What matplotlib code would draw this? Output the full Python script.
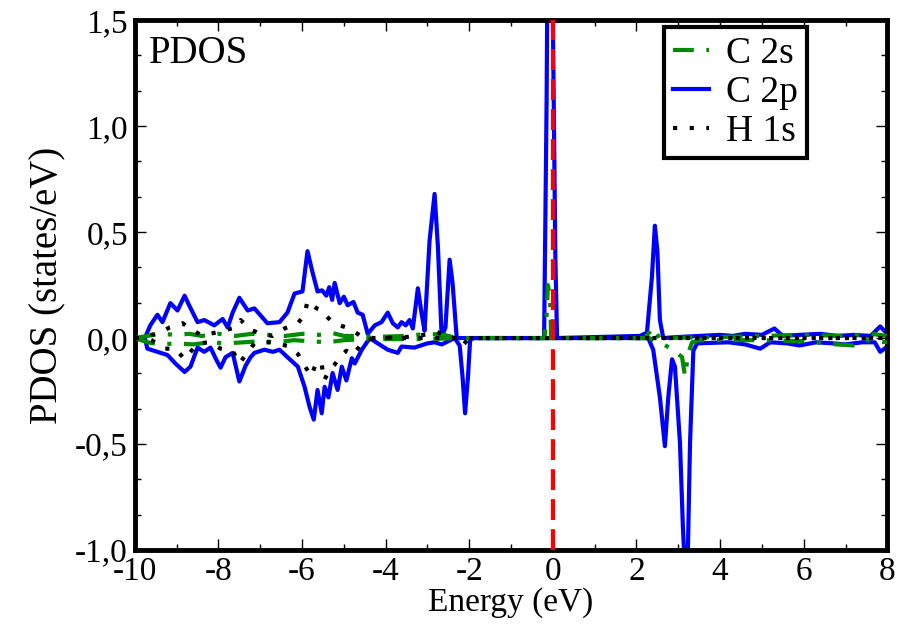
import matplotlib
matplotlib.use("Agg")
import matplotlib.pyplot as plt
from matplotlib.ticker import MultipleLocator, FuncFormatter

plt.rcParams['font.family'] = ['Liberation Serif', 'DejaVu Serif']
plt.rcParams['axes.unicode_minus'] = False

# C 2p, spin up / spin down
c2p_up_e = [-10.0, -9.76, -9.63, -9.46, -9.34, -9.15, -8.98, -8.81, -8.69, -8.5, -8.34, -8.1, -7.9, -7.78,
            -7.66, -7.5, -7.3, -7.14, -6.83, -6.54, -6.35, -6.18, -5.99, -5.87, -5.75, -5.63, -5.52, -5.42,
            -5.35, -5.28, -5.22, -5.1, -5.0, -4.91, -4.77, -4.67, -4.55, -4.43, -4.26, -4.1, -3.95, -3.83,
            -3.71, -3.62, -3.52, -3.43, -3.35, -3.23, -3.14, -3.07, -2.95, -2.83, -2.75, -2.66, -2.57, -2.47,
            -2.4, -2.3, -2.0, -0.21, -0.19, -0.15, -0.13, -0.01, 0.02, 0.06, 0.1, 2.08, 2.25, 2.37, 2.44,
            2.5, 2.56, 2.64, 3.0, 3.5, 4.0, 4.3, 4.6, 5.0, 5.3, 5.5, 5.9, 6.4, 6.8, 7.2, 7.6, 7.83, 8.0]
c2p_up = [0.0, 0.0, 0.06, 0.11, 0.075, 0.165, 0.13, 0.2, 0.15, 0.075, 0.085, 0.06, 0.09, 0.05,
          0.12, 0.19, 0.13, 0.14, 0.07, 0.075, 0.12, 0.21, 0.22, 0.41, 0.31, 0.22, 0.225, 0.2,
          0.24, 0.18, 0.26, 0.165, 0.195, 0.155, 0.17, 0.12, 0.11, 0.02, 0.06, 0.075, 0.12, 0.07,
          0.05, 0.075, 0.06, 0.085, 0.045, 0.235, 0.115, 0.035, 0.46, 0.68, 0.43, 0.005, 0.05, 0.37,
          0.26, 0.0, 0.0, 0.0, 0.37, 1.12, 1.7, 1.7, 1.12, 0.37, 0.0, 0.01, 0.025, 0.29, 0.53,
          0.41, 0.085, 0.0, 0.005, 0.01, 0.015, 0.01, 0.02, 0.015, 0.045, 0.01, 0.015, 0.02, 0.01, 0.015, 0.01, 0.055, 0.02]

c2p_dn_e = [-10.0, -9.76, -9.7, -9.46, -9.22, -9.03, -8.81, -8.67, -8.5, -8.34, -8.19, -8.07, -7.95, -7.83,
            -7.66, -7.5, -7.35, -7.23, -7.14, -6.9, -6.7, -6.54, -6.35, -6.1, -5.94, -5.82, -5.72, -5.63,
            -5.53, -5.46, -5.37, -5.27, -5.15, -5.05, -4.94, -4.81, -4.74, -4.57, -4.38, -4.19, -4.07,
            -3.95, -3.71, -3.62, -3.31, -3.0, -2.83, -2.66, -2.35, -2.23, -2.16, -2.1, -2.03, -1.98, -1.9,
            2.28, 2.4, 2.56, 2.68, 2.76, 2.85, 2.92, 3.04, 3.11, 3.16, 3.22, 3.28, 3.36, 3.45, 4.2, 4.6,
            4.96, 5.2, 5.6, 5.9, 6.3, 6.7, 7.0, 7.4, 7.7, 7.83, 8.0]
c2p_dn = [0.0, 0.0, -0.05, -0.065, -0.08, -0.12, -0.16, -0.135, -0.045, -0.065, -0.045, -0.095, -0.14, -0.09,
          -0.07, -0.205, -0.13, -0.09, -0.07, -0.055, -0.065, -0.055, -0.09, -0.135, -0.23, -0.325, -0.385, -0.245,
          -0.355, -0.23, -0.28, -0.165, -0.245, -0.135, -0.2, -0.095, -0.12, -0.055, 0.0, -0.025, -0.04,
          -0.055, -0.07, -0.04, -0.045, -0.025, -0.02, -0.03, 0.0, -0.035, -0.185, -0.355, -0.18, -0.01, 0.0,
          0.0, -0.055, -0.28, -0.51, -0.28, -0.1, -0.135, -0.495, -0.89, -1.1, -1.1, -0.5, -0.06, -0.025, -0.02, -0.03,
          -0.05, -0.02, -0.025, -0.035, -0.02, -0.025, -0.03, -0.02, -0.02, -0.065, -0.04]

# C 2s, spin up / spin down
c2s_up_e = [-10.0, -9.7, -9.4, -9.0, -8.7, -8.4, -8.0, -7.6, -7.2, -6.8, -6.4, -6.0, -5.6, -5.3, -5.0,
            -4.6, -4.3, -3.5, -3.0, -2.6, -2.3, -0.2, -0.15, -0.12, -0.07, -0.04, 2.2, 2.4, 2.55,
            4.0, 5.0, 6.0, 7.0, 7.6, 8.0]
c2s_up = [0.0, 0.01, 0.02, 0.015, 0.02, 0.01, 0.02, 0.01, 0.02, 0.015, 0.01, 0.02, 0.015, 0.025, 0.01,
          0.01, 0.005, 0.01, 0.02, 0.015, 0.0, 0.0, 0.11, 0.25, 0.2, 0.0, 0.0, 0.05, 0.0,
          0.005, 0.01, 0.015, 0.01, 0.02, 0.01]
c2s_dn_e = [-10.0, -9.7, -9.4, -9.0, -8.6, -8.2, -7.8, -7.4, -7.0, -6.6, -6.2, -5.8, -5.4, -5.0, -4.5,
            -3.0, -2.3, 2.3, 2.56, 2.87, 3.09, 3.16, 3.24, 3.33, 3.5, 5.0, 6.0, 6.8, 7.2, 7.5, 8.0]
c2s_dn = [0.0, -0.02, -0.03, -0.025, -0.03, -0.02, -0.025, -0.02, -0.015, -0.02, -0.01, -0.015, -0.02, -0.01, -0.005,
          -0.005, 0.0, 0.0, -0.02, -0.055, -0.09, -0.18, -0.07, -0.02, -0.01, -0.01, -0.015, -0.03, -0.035, -0.01, -0.02]

# H 1s, spin up / spin down
h1s_up_e = [-10.0, -9.76, -9.6, -9.39, -9.17, -8.86, -8.67, -8.43, -8.2, -7.98, -7.59, -7.47, -7.23, -7.0,
            -6.7, -6.42, -6.1, -5.94, -5.87, -5.78, -5.65, -5.5, -5.45, -5.3, -5.1, -4.86, -4.6, -4.3,
            -3.5, -2.9, -2.78, -2.5, 8.0]
h1s_up = [0.0, 0.0, 0.015, 0.025, 0.05, 0.07, 0.045, 0.015, 0.02, 0.03, 0.05, 0.085, 0.04, 0.02,
          0.01, 0.045, 0.07, 0.11, 0.175, 0.16, 0.14, 0.13, 0.11, 0.08, 0.06, 0.045, 0.01, 0.0,
          0.005, 0.02, 0.03, 0.0, 0.0]
h1s_dn_e = [-10.0, -9.76, -9.6, -9.3, -9.03, -8.81, -8.5, -8.2, -7.95, -7.66, -7.5, -7.14, -6.8, -6.5,
            -6.3, -6.1, -5.94, -5.78, -5.65, -5.53, -5.47, -5.35, -5.22, -5.05, -4.94, -4.79, -4.5, -4.2,
            -2.3, -2.16, -2.0, 8.0]
h1s_dn = [0.0, 0.0, -0.01, -0.05, -0.05, -0.1, -0.025, -0.02, -0.05, -0.06, -0.12, -0.025, -0.02, -0.03,
          -0.04, -0.075, -0.13, -0.18, -0.11, -0.125, -0.2, -0.15, -0.125, -0.08, -0.06, -0.08, -0.01, 0.0,
          0.0, -0.035, 0.0, 0.0]

fig = plt.figure(figsize=(8.99, 6.3), dpi=100)
ax = fig.add_axes([0.150, 0.127, 0.837, 0.841])

lw = 3.0
ax.plot(c2p_up_e, c2p_up, color="#0000ff", lw=lw, label="C 2p", zorder=2)
ax.plot(c2p_dn_e, c2p_dn, color="#0000ff", lw=lw, zorder=2)
ax.plot(c2s_up_e, c2s_up, color="#008c00", lw=lw, ls=(0, (5, 3, 1, 3)), label="C 2s", zorder=3)
ax.plot(c2s_dn_e, c2s_dn, color="#008c00", lw=lw, ls=(0, (5, 3, 1, 3)), zorder=3)
ax.plot(h1s_up_e, h1s_up, color="black", lw=lw, ls=(0, (1, 3)), label="H 1s", zorder=4)
ax.plot(h1s_dn_e, h1s_dn, color="black", lw=lw, ls=(0, (1, 3)), zorder=4)
ax.axvline(0, color="#ff0000", lw=lw, ls=(0, (5, 2.2)), zorder=5)

ax.set_xlim(-10, 8)
ax.set_ylim(-1.0, 1.5)
ax.xaxis.set_major_locator(MultipleLocator(2))
ax.xaxis.set_minor_locator(MultipleLocator(1))
ax.yaxis.set_major_locator(MultipleLocator(0.5))
ax.yaxis.set_minor_locator(MultipleLocator(0.5 / 3))
ax.yaxis.set_major_formatter(FuncFormatter(lambda v, p: ("%.1f" % v).replace(".", ",")))
ax.xaxis.set_major_formatter(FuncFormatter(lambda v, p: "%d" % round(v)))
ax.tick_params(which="both", direction="in", top=True, right=True, labelsize=24, pad=5)
ax.tick_params(which="major", length=8, width=1)
ax.tick_params(which="minor", length=4, width=1)
for s in ax.spines.values():
    s.set_linewidth(3.5)

ax.set_xlabel("Energy (eV)", fontsize=24, labelpad=0)
ax.set_ylabel("PDOS (states/eV)", fontsize=28, labelpad=6)
ax.text(0.018, 0.972, "PDOS", transform=ax.transAxes, fontsize=28, va="top", ha="left")

h, l = ax.get_legend_handles_labels()
order = [1, 0, 2]
leg = ax.legend([h[i] for i in order], [l[i] for i in order], loc="upper right",
                bbox_to_anchor=(0.893, 0.987), borderaxespad=0, fontsize=27, handlelength=0.95,
                handletextpad=0.45, labelspacing=0.12, borderpad=0.25, fancybox=False, framealpha=1)
leg.get_frame().set_edgecolor("black")
leg.get_frame().set_linewidth(3)

fig.savefig("out.png", dpi=100)
